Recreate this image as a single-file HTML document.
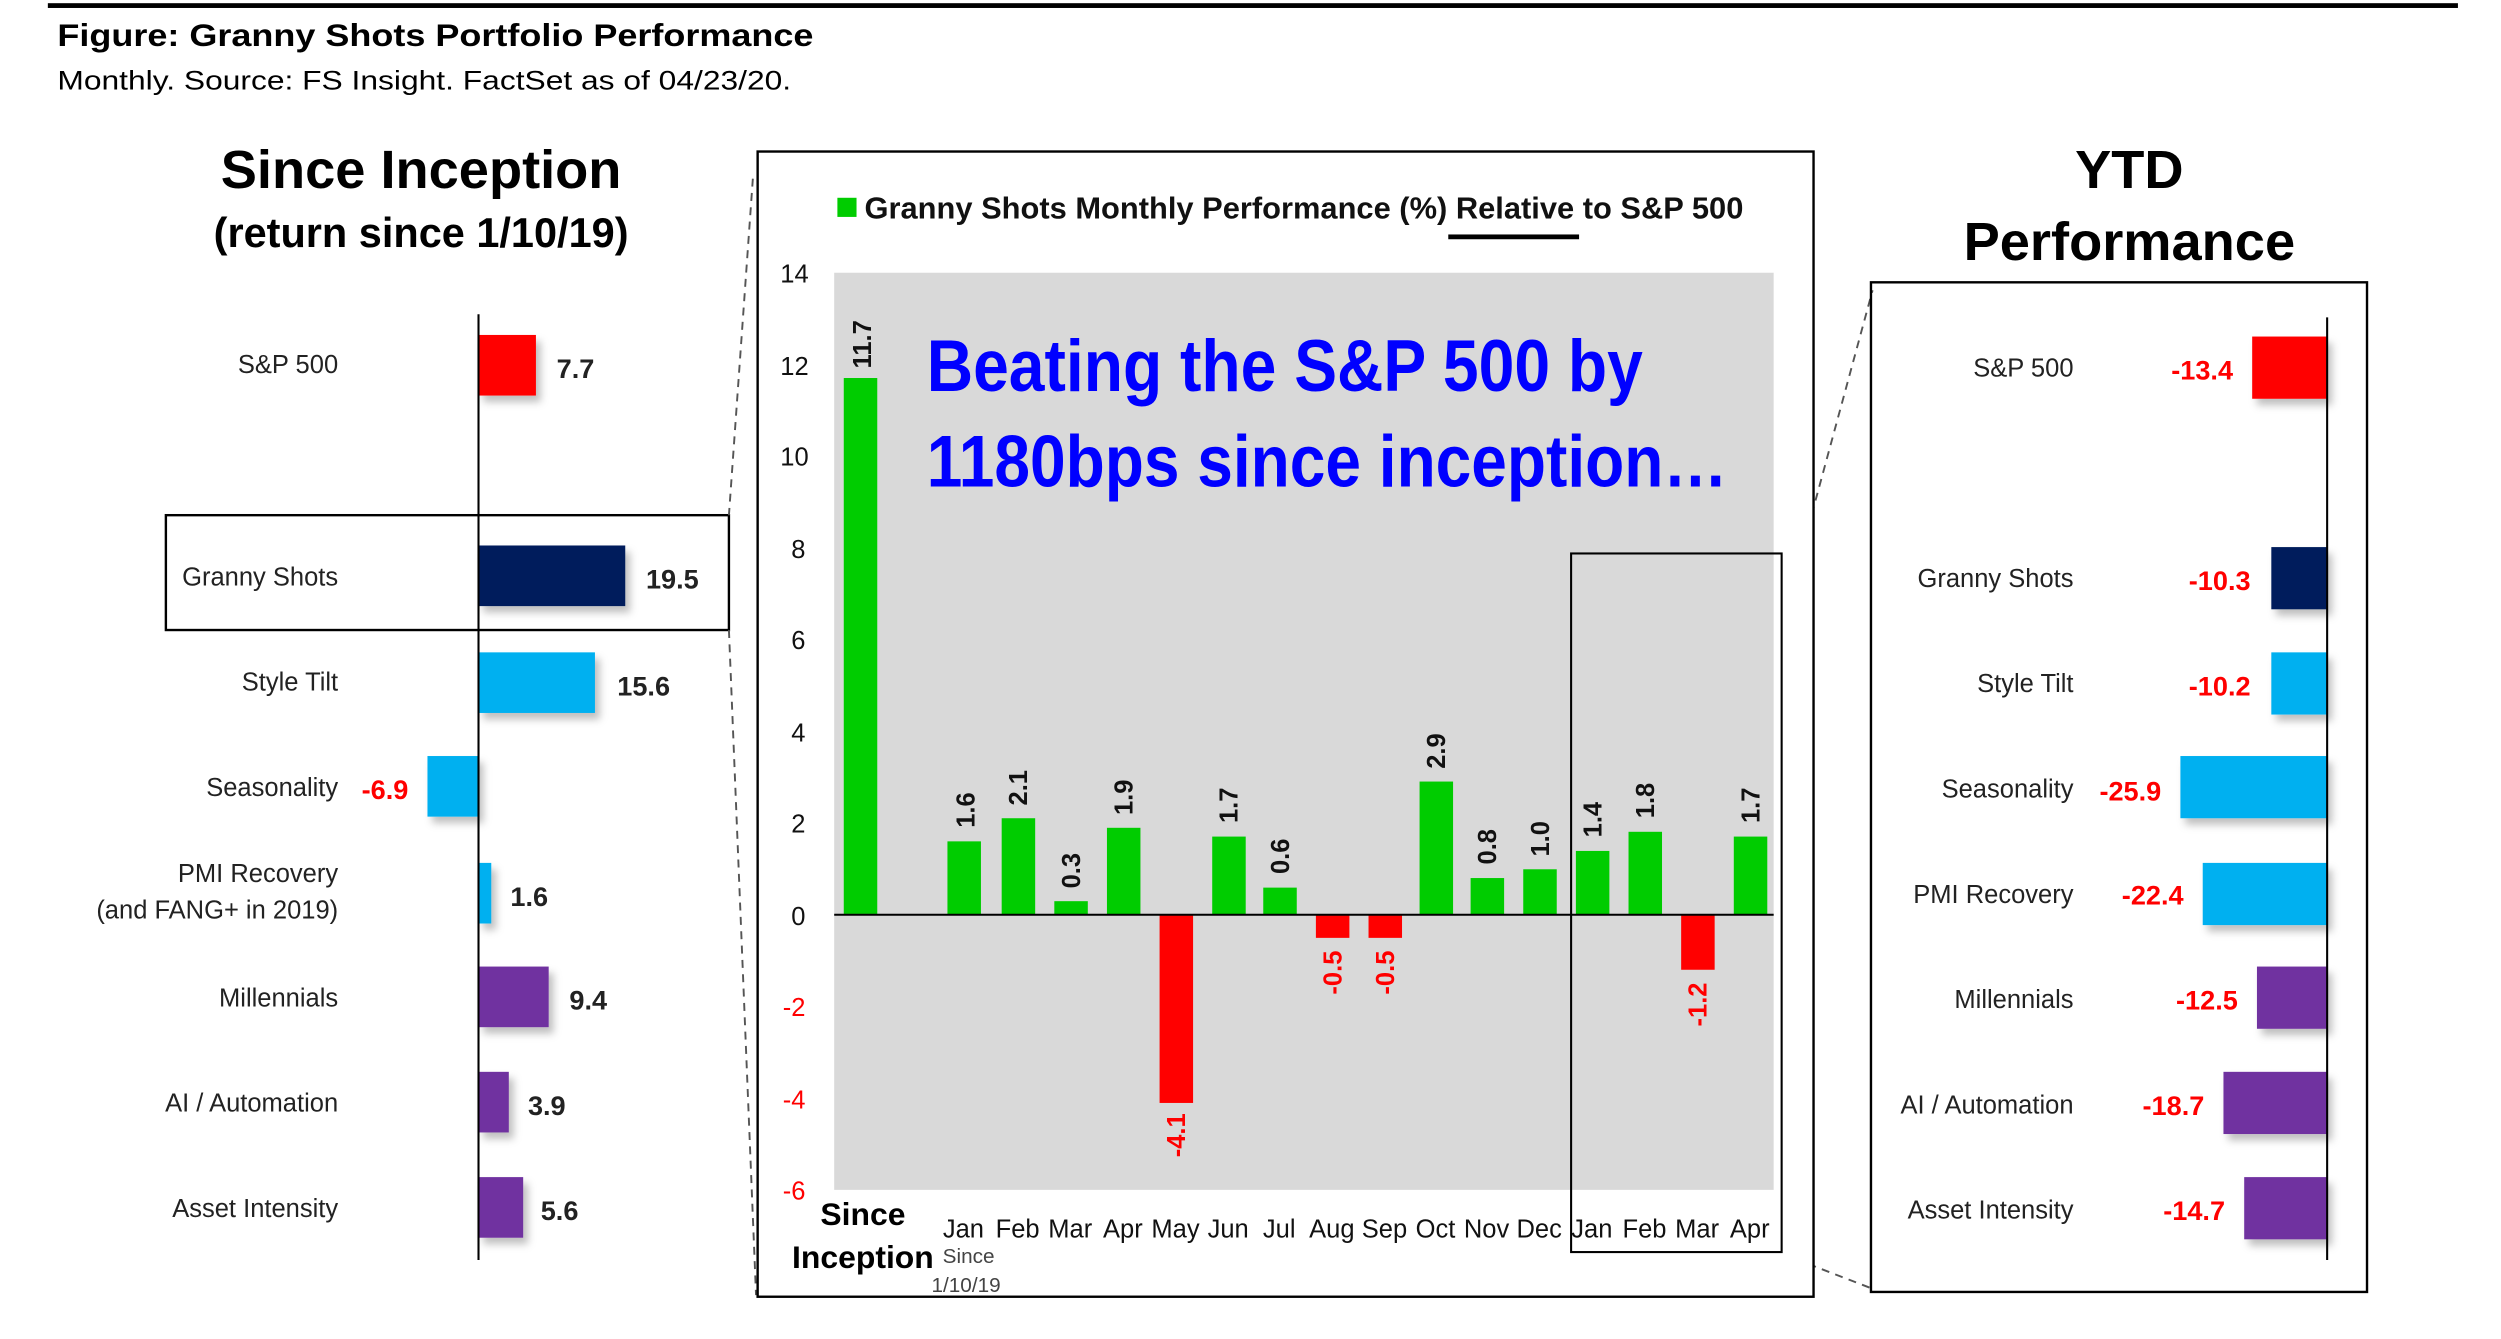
<!DOCTYPE html>
<html><head><meta charset="utf-8"><style>
html,body{margin:0;padding:0;background:#fff;}
svg{display:block;}
text{font-family:"Liberation Sans",Arial,sans-serif;}
.cat{font-family:"Liberation Sans Narrow","Liberation Sans",sans-serif;font-size:16px;fill:#222;}
.val{font-weight:bold;font-size:17px;fill:#222;}
.neg{font-weight:bold;font-size:17px;fill:#ff0000;}
.tick{font-size:16px;fill:#111;font-family:"Liberation Sans Narrow","Liberation Sans",sans-serif;}
.mon{font-size:16px;fill:#111;font-family:"Liberation Sans Narrow","Liberation Sans",sans-serif;}
.bl{font-weight:bold;font-size:16px;fill:#111;}
.br{font-weight:bold;font-size:16px;fill:#ff0000;}
</style></head><body>
<svg width="2501" height="1339" viewBox="0 0 1568 839.5" preserveAspectRatio="none" xmlns="http://www.w3.org/2000/svg">
<defs><filter id="sh" x="-20%" y="-20%" width="150%" height="160%"><feDropShadow dx="3" dy="4" stdDeviation="2.5" flood-color="#000" flood-opacity="0.25"/></filter></defs>
<rect x="0" y="0" width="1568" height="840" fill="#fff"/>
<rect x="30" y="2" width="1511" height="3" fill="#000"/>
<text x="36" y="29" font-weight="bold" font-size="20" fill="#000" textLength="474" lengthAdjust="spacingAndGlyphs">Figure: Granny Shots Portfolio Performance</text>
<text x="36" y="56" font-size="17" fill="#000" textLength="460" lengthAdjust="spacingAndGlyphs">Monthly. Source: FS Insight. FactSet as of 04/23/20.</text>

<!-- Left panel -->
<text x="264" y="118" text-anchor="middle" font-weight="bold" font-size="34">Since Inception</text>
<text x="264" y="155" text-anchor="middle" font-weight="bold" font-size="26">(return since 1/10/19)</text>
<rect x="104" y="323" width="353" height="72" fill="none" stroke="#000" stroke-width="1.5"/>
<g filter="url(#sh)">
<rect x="300" y="210" width="36" height="38" fill="#ff0000"/>
<rect x="300" y="342" width="92" height="38" fill="#001f5b"/>
<rect x="300" y="409" width="73" height="38" fill="#00b0f0"/>
<rect x="268" y="474" width="32" height="38" fill="#00b0f0"/>
<rect x="300" y="541" width="8" height="38" fill="#00b0f0"/>
<rect x="300" y="606" width="44" height="38" fill="#7030a0"/>
<rect x="300" y="672" width="19" height="38" fill="#7030a0"/>
<rect x="300" y="738" width="28" height="38" fill="#7030a0"/>
</g>
<line x1="300" y1="197" x2="300" y2="790" stroke="#000" stroke-width="1.3"/>
<g class="cat" text-anchor="end">
<text x="212" y="234">S&amp;P 500</text>
<text x="212" y="367">Granny Shots</text>
<text x="212" y="433">Style Tilt</text>
<text x="212" y="499">Seasonality</text>
<text x="212" y="553">PMI Recovery</text>
<text x="212" y="576">(and FANG+ in 2019)</text>
<text x="212" y="631">Millennials</text>
<text x="212" y="697">AI / Automation</text>
<text x="212" y="763">Asset Intensity</text>
</g>
<text class="val" x="349" y="237">7.7</text>
<text class="val" x="405" y="369">19.5</text>
<text class="val" x="387" y="436">15.6</text>
<text class="neg" x="256" y="501" text-anchor="end">-6.9</text>
<text class="val" x="320" y="568">1.6</text>
<text class="val" x="357" y="633">9.4</text>
<text class="val" x="331" y="699">3.9</text>
<text class="val" x="339" y="765">5.6</text>

<!-- dashed connectors -->
<g stroke="#555" stroke-width="1.2" stroke-dasharray="5,4" fill="none">
<line x1="472" y1="112" x2="457" y2="323"/>
<line x1="457" y1="395" x2="474" y2="812"/>
<line x1="1117" y1="392" x2="1174" y2="182"/>
<line x1="1117" y1="786" x2="1174" y2="808"/>
</g>

<!-- Middle panel -->
<rect x="475" y="95" width="662" height="718" fill="#fff" stroke="#000" stroke-width="1.5"/>
<rect x="525" y="124" width="12" height="12" fill="#00cc00"/>
<text x="542" y="137" font-weight="bold" font-size="19" fill="#111" textLength="551" lengthAdjust="spacingAndGlyphs">Granny Shots Monthly Performance (%) Relative to S&amp;P 500</text>
<rect x="908" y="147" width="82" height="3" fill="#000"/>
<rect x="523" y="171" width="589" height="575" fill="#d9d9d9"/>
<g class="tick" text-anchor="end">
<text x="507" y="177">14</text><text x="507" y="235">12</text><text x="507" y="292">10</text>
<text x="505" y="350">8</text><text x="505" y="407">6</text><text x="505" y="465">4</text>
<text x="505" y="522">2</text><text x="505" y="580">0</text>
<text x="505" y="637" fill="#ff0000">-2</text><text x="505" y="695" fill="#ff0000">-4</text><text x="505" y="752" fill="#ff0000">-6</text>
</g>
<text x="581" y="245" font-weight="bold" font-size="46" fill="#0000ff" textLength="449" lengthAdjust="spacingAndGlyphs">Beating the S&amp;P 500 by</text>
<text x="581" y="305" font-weight="bold" font-size="46" fill="#0000ff" textLength="502" lengthAdjust="spacingAndGlyphs">1180bps since inception…</text>
<g>
<rect x="529" y="237" width="21" height="336" fill="#00cc00"/>
<rect x="594" y="527.5" width="21" height="46" fill="#00cc00"/>
<rect x="628" y="513" width="21" height="60.5" fill="#00cc00"/>
<rect x="661" y="565" width="21" height="8.5" fill="#00cc00"/>
<rect x="694" y="519" width="21" height="54.5" fill="#00cc00"/>
<rect x="727" y="573.5" width="21" height="118" fill="#ff0000"/>
<rect x="760" y="524.5" width="21" height="49" fill="#00cc00"/>
<rect x="792" y="556.5" width="21" height="17" fill="#00cc00"/>
<rect x="825" y="573.5" width="21" height="14.5" fill="#ff0000"/>
<rect x="858" y="573.5" width="21" height="14.5" fill="#ff0000"/>
<rect x="890" y="490" width="21" height="83.5" fill="#00cc00"/>
<rect x="922" y="550.5" width="21" height="23" fill="#00cc00"/>
<rect x="955" y="545" width="21" height="28.5" fill="#00cc00"/>
<rect x="988" y="533.5" width="21" height="40" fill="#00cc00"/>
<rect x="1021" y="521.5" width="21" height="52" fill="#00cc00"/>
<rect x="1054" y="573.5" width="21" height="34.5" fill="#ff0000"/>
<rect x="1087" y="524.5" width="21" height="49" fill="#00cc00"/>
</g>
<line x1="523" y1="573.5" x2="1112" y2="573.5" stroke="#000" stroke-width="1.3"/>
<g class="bl">
<text transform="translate(546,231) rotate(-90)">11.7</text>
<text transform="translate(611,519) rotate(-90)">1.6</text>
<text transform="translate(644,505) rotate(-90)">2.1</text>
<text transform="translate(677,557) rotate(-90)">0.3</text>
<text transform="translate(710,511) rotate(-90)">1.9</text>
<text transform="translate(776,516) rotate(-90)">1.7</text>
<text transform="translate(808,548) rotate(-90)">0.6</text>
<text transform="translate(906,482) rotate(-90)">2.9</text>
<text transform="translate(938,542) rotate(-90)">0.8</text>
<text transform="translate(971,537) rotate(-90)">1.0</text>
<text transform="translate(1004,525) rotate(-90)">1.4</text>
<text transform="translate(1037,513) rotate(-90)">1.8</text>
<text transform="translate(1103,516) rotate(-90)">1.7</text>
</g>
<g class="br" text-anchor="end">
<text transform="translate(743,698) rotate(-90)">-4.1</text>
<text transform="translate(841,596) rotate(-90)">-0.5</text>
<text transform="translate(874,596) rotate(-90)">-0.5</text>
<text transform="translate(1070,616) rotate(-90)">-1.2</text>
</g>
<g class="mon" text-anchor="middle">
<text x="604" y="776">Jan</text><text x="638" y="776">Feb</text><text x="671" y="776">Mar</text><text x="704" y="776">Apr</text>
<text x="737" y="776">May</text><text x="770" y="776">Jun</text><text x="802" y="776">Jul</text><text x="835" y="776">Aug</text>
<text x="868" y="776">Sep</text><text x="900" y="776">Oct</text><text x="932" y="776">Nov</text><text x="965" y="776">Dec</text>
<text x="998" y="776">Jan</text><text x="1031" y="776">Feb</text><text x="1064" y="776">Mar</text><text x="1097" y="776">Apr</text>
</g>
<text x="541" y="768" text-anchor="middle" font-weight="bold" font-size="20" font-family="Liberation Sans Narrow,Liberation Sans,sans-serif">Since</text>
<text x="541" y="795" text-anchor="middle" font-weight="bold" font-size="20" font-family="Liberation Sans Narrow,Liberation Sans,sans-serif">Inception</text>
<text x="591" y="792" font-size="13" fill="#444">Since</text>
<text x="584" y="810" font-size="13" fill="#444">1/10/19</text>
<rect x="985" y="347" width="132" height="438" fill="none" stroke="#000" stroke-width="1.3"/>

<!-- Right panel -->
<text x="1335" y="118" text-anchor="middle" font-weight="bold" font-size="34">YTD</text>
<text x="1335" y="163" text-anchor="middle" font-weight="bold" font-size="34">Performance</text>
<rect x="1173" y="177" width="311" height="633" fill="none" stroke="#000" stroke-width="1.5"/>
<g filter="url(#sh)">
<rect x="1412" y="211" width="47" height="39" fill="#ff0000"/>
<rect x="1424" y="343" width="35" height="39" fill="#001f5b"/>
<rect x="1424" y="409" width="35" height="39" fill="#00b0f0"/>
<rect x="1367" y="474" width="92" height="39" fill="#00b0f0"/>
<rect x="1381" y="541" width="78" height="39" fill="#00b0f0"/>
<rect x="1415" y="606" width="44" height="39" fill="#7030a0"/>
<rect x="1394" y="672" width="65" height="39" fill="#7030a0"/>
<rect x="1407" y="738" width="52" height="39" fill="#7030a0"/>
</g>
<line x1="1459" y1="199" x2="1459" y2="790" stroke="#000" stroke-width="1.3"/>
<g class="cat" text-anchor="end">
<text x="1300" y="236">S&amp;P 500</text>
<text x="1300" y="368">Granny Shots</text>
<text x="1300" y="434">Style Tilt</text>
<text x="1300" y="500">Seasonality</text>
<text x="1300" y="566">PMI Recovery</text>
<text x="1300" y="632">Millennials</text>
<text x="1300" y="698">AI / Automation</text>
<text x="1300" y="764">Asset Intensity</text>
</g>
<g class="neg" text-anchor="end" font-size="16">
<text x="1400" y="238">-13.4</text>
<text x="1411" y="370">-10.3</text>
<text x="1411" y="436">-10.2</text>
<text x="1355" y="502">-25.9</text>
<text x="1369" y="567">-22.4</text>
<text x="1403" y="633">-12.5</text>
<text x="1382" y="699">-18.7</text>
<text x="1395" y="765">-14.7</text>
</g>
</svg>
</body></html>
